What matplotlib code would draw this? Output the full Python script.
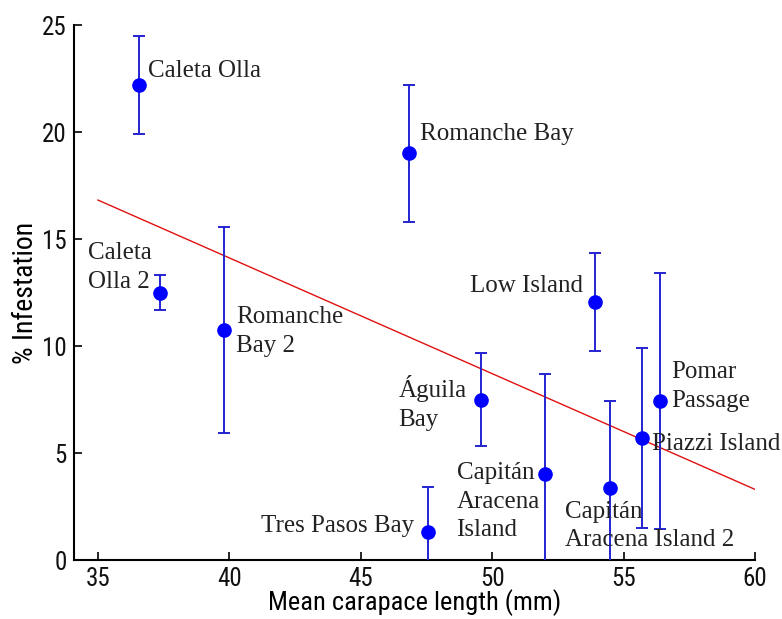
import matplotlib
matplotlib.use("Agg")
import matplotlib.pyplot as plt

# ---- data ----
sites = ["Caleta Olla", "Caleta\nOlla 2", "Romanche\nBay 2", "Romanche Bay",
         "Águila\nBay", "Low Island", "Tres Pasos Bay", "Capitán\nAracena\nIsland",
         "Capitán\nAracena Island 2", "Piazzi Island", "Pomar\nPassage"]
carapace = [36.55, 37.37, 39.80, 46.83, 49.56, 53.90, 47.54, 52.00, 54.49, 55.71, 56.40]
infest = [22.2, 12.5, 10.75, 19.0, 7.5, 12.05, 1.29, 4.0, 3.35, 5.7, 7.43]
err = [2.27, 0.84, 4.83, 3.2, 2.18, 2.3, 2.1, 4.7, 4.07, 4.2, 6.0]
fit_x = [35, 60]
fit_y = [16.82, 3.30]
xticks = [35, 40, 45, 50, 55, 60]
yticks = [0, 5, 10, 15, 20, 25]

# label placement: (dx px, dy px of last-line baseline, ha)
label_pos = [(9, 8, "left"), (-8, 5, "right"), (12, -22, "left"), (11, 13, "left"),
             (-14, -26, "right"), (-12, 10, "right"), (-13, 0, "right"), (-5, -62, "right"),
             (-45, -58, "left"), (10, -12, "left"), (11, -6, "left")]

sans = ["Roboto Condensed", "Liberation Sans Narrow", "DejaVu Sans"]
serif = ["Liberation Serif", "DejaVu Serif"]

fig = plt.figure(figsize=(7.82, 6.19), dpi=100)
ax = fig.add_axes([0.094, 0.0953, 0.8715, 0.8643])

ax.plot(fit_x, fit_y, color="#e01010", lw=1.0, zorder=2)
ax.errorbar(carapace, infest, yerr=err, fmt="o", color="#0000ff", ms=9.5,
            ecolor="#2424d0", elinewidth=1.4, capsize=4, capthick=1.4, zorder=3)

for name, x, y, (dx, dy, ha) in zip(sites, carapace, infest, label_pos):
    ax.annotate(name, (x, y), xytext=(dx, dy), textcoords="offset pixels",
                ha=ha, va="baseline", multialignment="left",
                family=serif, fontsize=18, color="#222222", linespacing=1.4,
                zorder=4)

ax.set_xlim(34.07, 60)
ax.set_ylim(0, 25)
ax.set_xticks(xticks)
ax.set_yticks(yticks)
ax.tick_params(direction="in", length=6, width=1.2, labelsize=18, pad=5)
for lab in ax.get_xticklabels() + ax.get_yticklabels():
    lab.set_family(sans)
    lab.set_stretch("condensed")
    lab.set_color("#111111")
for s in ["top", "right"]:
    ax.spines[s].set_visible(False)
for s in ["left", "bottom"]:
    ax.spines[s].set_linewidth(1.5)

ax.set_xlabel("Mean carapace length (mm)", family=sans, stretch="condensed",
              fontsize=19, labelpad=-1)
ax.set_ylabel("% Infestation", family=sans, stretch="condensed",
              fontsize=20, labelpad=2)

fig.savefig("out.png", dpi=100)
